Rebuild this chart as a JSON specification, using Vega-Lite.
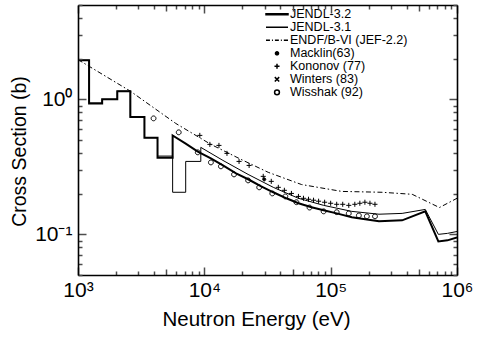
{
  "$schema": "https://vega.github.io/schema/vega-lite/v6.json",
  "width": 379,
  "height": 270,
  "autosize": "none",
  "padding": {"left": 78, "top": 5, "right": 20, "bottom": 63},
  "background": "white",
  "config": {
    "view": {"stroke": null},
    "axis": {"grid": false}
  },
  "datasets": {
    "lines": [
      {"s": "JENDL-3.2", "i": 1, "E": 1000, "cs": 1.95},
      {"s": "JENDL-3.2", "i": 2, "E": 1224, "cs": 1.95},
      {"s": "JENDL-3.2", "i": 3, "E": 1224, "cs": 0.93},
      {"s": "JENDL-3.2", "i": 4, "E": 1553, "cs": 0.93},
      {"s": "JENDL-3.2", "i": 5, "E": 1553, "cs": 1.0},
      {"s": "JENDL-3.2", "i": 6, "E": 2046, "cs": 1.0},
      {"s": "JENDL-3.2", "i": 7, "E": 2046, "cs": 1.15},
      {"s": "JENDL-3.2", "i": 8, "E": 2596, "cs": 1.15},
      {"s": "JENDL-3.2", "i": 9, "E": 2596, "cs": 0.74},
      {"s": "JENDL-3.2", "i": 10, "E": 3357, "cs": 0.74},
      {"s": "JENDL-3.2", "i": 11, "E": 3357, "cs": 0.52},
      {"s": "JENDL-3.2", "i": 12, "E": 4261, "cs": 0.52},
      {"s": "JENDL-3.2", "i": 13, "E": 4261, "cs": 0.37},
      {"s": "JENDL-3.2", "i": 14, "E": 5611, "cs": 0.37},
      {"s": "JENDL-3.2", "i": 15, "E": 5611, "cs": 0.54},
      {"s": "JENDL-3.2", "i": 16, "E": 7120, "cs": 0.47},
      {"s": "JENDL-3.2", "i": 17, "E": 8876, "cs": 0.41},
      {"s": "JENDL-3.2", "i": 18, "E": 11265, "cs": 0.366},
      {"s": "JENDL-3.2", "i": 19, "E": 14040, "cs": 0.324},
      {"s": "JENDL-3.2", "i": 20, "E": 17820, "cs": 0.283},
      {"s": "JENDL-3.2", "i": 21, "E": 22210, "cs": 0.256},
      {"s": "JENDL-3.2", "i": 22, "E": 28190, "cs": 0.227},
      {"s": "JENDL-3.2", "i": 23, "E": 35140, "cs": 0.205},
      {"s": "JENDL-3.2", "i": 24, "E": 44610, "cs": 0.185},
      {"s": "JENDL-3.2", "i": 25, "E": 55590, "cs": 0.17},
      {"s": "JENDL-3.2", "i": 26, "E": 70570, "cs": 0.159},
      {"s": "JENDL-3.2", "i": 27, "E": 87950, "cs": 0.151},
      {"s": "JENDL-3.2", "i": 28, "E": 111600, "cs": 0.143},
      {"s": "JENDL-3.2", "i": 29, "E": 147000, "cs": 0.134},
      {"s": "JENDL-3.2", "i": 30, "E": 193600, "cs": 0.129},
      {"s": "JENDL-3.2", "i": 31, "E": 241300, "cs": 0.125},
      {"s": "JENDL-3.2", "i": 32, "E": 367900, "cs": 0.127},
      {"s": "JENDL-3.2", "i": 33, "E": 561100, "cs": 0.148},
      {"s": "JENDL-3.2", "i": 34, "E": 712000, "cs": 0.0887},
      {"s": "JENDL-3.2", "i": 35, "E": 840300, "cs": 0.0903},
      {"s": "JENDL-3.2", "i": 36, "E": 1000000, "cs": 0.095},
      {"s": "JENDL-3.1", "i": 1, "E": 1000, "cs": 1.95},
      {"s": "JENDL-3.1", "i": 2, "E": 1224, "cs": 1.95},
      {"s": "JENDL-3.1", "i": 3, "E": 1224, "cs": 0.94},
      {"s": "JENDL-3.1", "i": 4, "E": 1553, "cs": 0.94},
      {"s": "JENDL-3.1", "i": 5, "E": 1553, "cs": 1.0},
      {"s": "JENDL-3.1", "i": 6, "E": 2046, "cs": 1.0},
      {"s": "JENDL-3.1", "i": 7, "E": 2046, "cs": 1.15},
      {"s": "JENDL-3.1", "i": 8, "E": 2596, "cs": 1.15},
      {"s": "JENDL-3.1", "i": 9, "E": 2596, "cs": 0.74},
      {"s": "JENDL-3.1", "i": 10, "E": 3357, "cs": 0.74},
      {"s": "JENDL-3.1", "i": 11, "E": 3357, "cs": 0.52},
      {"s": "JENDL-3.1", "i": 12, "E": 4261, "cs": 0.52},
      {"s": "JENDL-3.1", "i": 13, "E": 4261, "cs": 0.38},
      {"s": "JENDL-3.1", "i": 14, "E": 5611, "cs": 0.38},
      {"s": "JENDL-3.1", "i": 15, "E": 5611, "cs": 0.205},
      {"s": "JENDL-3.1", "i": 16, "E": 7120, "cs": 0.205},
      {"s": "JENDL-3.1", "i": 17, "E": 7120, "cs": 0.347},
      {"s": "JENDL-3.1", "i": 18, "E": 9378, "cs": 0.347},
      {"s": "JENDL-3.1", "i": 19, "E": 9378, "cs": 0.441},
      {"s": "JENDL-3.1", "i": 20, "E": 14040, "cs": 0.353},
      {"s": "JENDL-3.1", "i": 21, "E": 22210, "cs": 0.278},
      {"s": "JENDL-3.1", "i": 22, "E": 35140, "cs": 0.223},
      {"s": "JENDL-3.1", "i": 23, "E": 55590, "cs": 0.185},
      {"s": "JENDL-3.1", "i": 24, "E": 87950, "cs": 0.164},
      {"s": "JENDL-3.1", "i": 25, "E": 147000, "cs": 0.148},
      {"s": "JENDL-3.1", "i": 26, "E": 241300, "cs": 0.141},
      {"s": "JENDL-3.1", "i": 27, "E": 367900, "cs": 0.143},
      {"s": "JENDL-3.1", "i": 28, "E": 561100, "cs": 0.153},
      {"s": "JENDL-3.1", "i": 29, "E": 712000, "cs": 0.1},
      {"s": "JENDL-3.1", "i": 30, "E": 840300, "cs": 0.1017},
      {"s": "JENDL-3.1", "i": 31, "E": 1000000, "cs": 0.105},
      {"s": "ENDF/B-VI (JEF-2.2)", "i": 1, "E": 1000, "cs": 1.97},
      {"s": "ENDF/B-VI (JEF-2.2)", "i": 2, "E": 2596, "cs": 1.15},
      {"s": "ENDF/B-VI (JEF-2.2)", "i": 3, "E": 5930, "cs": 0.664},
      {"s": "ENDF/B-VI (JEF-2.2)", "i": 4, "E": 11265, "cs": 0.464},
      {"s": "ENDF/B-VI (JEF-2.2)", "i": 5, "E": 19540, "cs": 0.359},
      {"s": "ENDF/B-VI (JEF-2.2)", "i": 6, "E": 32060, "cs": 0.288},
      {"s": "ENDF/B-VI (JEF-2.2)", "i": 7, "E": 58750, "cs": 0.234},
      {"s": "ENDF/B-VI (JEF-2.2)", "i": 8, "E": 122400, "cs": 0.208},
      {"s": "ENDF/B-VI (JEF-2.2)", "i": 9, "E": 254900, "cs": 0.205},
      {"s": "ENDF/B-VI (JEF-2.2)", "i": 10, "E": 441900, "cs": 0.198},
      {"s": "ENDF/B-VI (JEF-2.2)", "i": 11, "E": 725500, "cs": 0.158},
      {"s": "ENDF/B-VI (JEF-2.2)", "i": 12, "E": 1000000, "cs": 0.185}
    ],
    "points": [
      {"s": "Wisshak (92)", "E": 3963, "cs": 0.723},
      {"s": "Wisshak (92)", "E": 6270, "cs": 0.57},
      {"s": "Wisshak (92)", "E": 8870, "cs": 0.405},
      {"s": "Wisshak (92)", "E": 11270, "cs": 0.341},
      {"s": "Wisshak (92)", "E": 13530, "cs": 0.319},
      {"s": "Wisshak (92)", "E": 17180, "cs": 0.278},
      {"s": "Wisshak (92)", "E": 22220, "cs": 0.251},
      {"s": "Wisshak (92)", "E": 27190, "cs": 0.223},
      {"s": "Wisshak (92)", "E": 34510, "cs": 0.201},
      {"s": "Wisshak (92)", "E": 43790, "cs": 0.191},
      {"s": "Wisshak (92)", "E": 53570, "cs": 0.173},
      {"s": "Wisshak (92)", "E": 68030, "cs": 0.158},
      {"s": "Wisshak (92)", "E": 87960, "cs": 0.148},
      {"s": "Wisshak (92)", "E": 111600, "cs": 0.146},
      {"s": "Wisshak (92)", "E": 139100, "cs": 0.143},
      {"s": "Wisshak (92)", "E": 167200, "cs": 0.138},
      {"s": "Wisshak (92)", "E": 193400, "cs": 0.136},
      {"s": "Wisshak (92)", "E": 224300, "cs": 0.136},
      {"s": "Kononov (77)", "E": 9207, "cs": 0.541},
      {"s": "Kononov (77)", "E": 11060, "cs": 0.464},
      {"s": "Kononov (77)", "E": 13050, "cs": 0.456},
      {"s": "Kononov (77)", "E": 15110, "cs": 0.398},
      {"s": "Kononov (77)", "E": 18830, "cs": 0.347},
      {"s": "Kononov (77)", "E": 22620, "cs": 0.324},
      {"s": "Kononov (77)", "E": 29250, "cs": 0.269},
      {"s": "Kononov (77)", "E": 33870, "cs": 0.247},
      {"s": "Kononov (77)", "E": 38520, "cs": 0.223},
      {"s": "Kononov (77)", "E": 43000, "cs": 0.212},
      {"s": "Kononov (77)", "E": 48900, "cs": 0.201},
      {"s": "Kononov (77)", "E": 55590, "cs": 0.191},
      {"s": "Kononov (77)", "E": 60930, "cs": 0.185},
      {"s": "Kononov (77)", "E": 66780, "cs": 0.182},
      {"s": "Kononov (77)", "E": 73190, "cs": 0.179},
      {"s": "Kononov (77)", "E": 80250, "cs": 0.176},
      {"s": "Kononov (77)", "E": 89580, "cs": 0.173},
      {"s": "Kononov (77)", "E": 100000, "cs": 0.17},
      {"s": "Kononov (77)", "E": 111600, "cs": 0.167},
      {"s": "Kononov (77)", "E": 124600, "cs": 0.167},
      {"s": "Kononov (77)", "E": 139100, "cs": 0.164},
      {"s": "Kononov (77)", "E": 155300, "cs": 0.167},
      {"s": "Kononov (77)", "E": 170200, "cs": 0.17},
      {"s": "Kononov (77)", "E": 186600, "cs": 0.173},
      {"s": "Kononov (77)", "E": 204600, "cs": 0.17},
      {"s": "Kononov (77)", "E": 224200, "cs": 0.167},
      {"s": "Macklin(63)", "E": 29790, "cs": 0.2555}
    ]
  },
  "layer": [
    {
      "data": {"name": "lines"},
      "transform": [{"filter": "datum.s == 'JENDL-3.2'"}],
      "mark": {"type": "line", "stroke": "black", "strokeWidth": 2, "clip": true},
      "encoding": {
        "x": {"field": "E", "type": "quantitative",
          "scale": {"type": "log", "domain": [1000, 1000000], "nice": false},
          "axis": {"orient": "bottom", "title": "Neutron Energy (eV)", "titleX": 178, "zindex": 1,
            "values": [1000, 2000, 3000, 4000, 5000, 6000, 7000, 8000, 9000, 10000, 20000, 30000, 40000, 50000, 60000, 70000, 80000, 90000, 100000, 200000, 300000, 400000, 500000, 600000, 700000, 800000, 900000, 1000000],
            "labelExpr": "datum.value == 1000 ? '10³' : datum.value == 10000 ? '10⁴' : datum.value == 100000 ? '10⁵' : datum.value == 1000000 ? '10⁶' : ''",
            "tickSize": {"condition": [{"test": "datum.value == 1000 || datum.value == 10000 || datum.value == 100000 || datum.value == 1000000", "value": -8}, {"test": "datum.value == 5000 || datum.value == 50000 || datum.value == 500000", "value": -6}], "value": -4},
            "tickColor": "#4d4d4d", "tickWidth": 1.5, "domainColor": "black", "domainWidth": 1.6,
            "labelFont": "Liberation Sans", "labelFontSize": 21, "labelColor": "black", "labelFlush": false, "labelOverlap": false, "labelPadding": 12,
            "titleFont": "Liberation Sans", "titleFontSize": 20.5, "titleFontWeight": "normal", "titleColor": "black", "titlePadding": 5}},
        "y": {"field": "cs", "type": "quantitative",
          "scale": {"type": "log", "domain": [0.05, 5], "nice": false},
          "axis": {"orient": "left", "title": "Cross Section (b)", "zindex": 1,
            "values": [0.05, 0.06, 0.07, 0.08, 0.09, 0.1, 0.2, 0.3, 0.4, 0.5, 0.6, 0.7, 0.8, 0.9, 1, 2, 3, 4, 5],
            "labelExpr": "datum.value == 1 ? '10⁰' : datum.value == 0.1 ? '10⁻¹' : ''",
            "tickSize": {"condition": [{"test": "datum.value == 1 || datum.value == 0.1", "value": -8}], "value": -4},
            "tickColor": "#4d4d4d", "tickWidth": 1.5, "domainColor": "black", "domainWidth": 1.6,
            "labelFont": "Liberation Sans", "labelFontSize": 21, "labelColor": "black", "labelFlush": false, "labelOverlap": false, "labelPadding": 14,
            "titleFont": "Liberation Sans", "titleFontSize": 19.5, "titleFontWeight": "normal", "titleColor": "black", "titlePadding": 5, "titleY": 146}},
        "order": {"field": "i", "type": "quantitative"}
      }
    },
    {
      "data": {"name": "lines"},
      "transform": [{"filter": "datum.s == 'JENDL-3.1'"}],
      "mark": {"type": "line", "stroke": "black", "strokeWidth": 1, "clip": true},
      "encoding": {
        "x": {"field": "E", "type": "quantitative", "scale": {"type": "log", "domain": [1000, 1000000], "nice": false}, "axis": null},
        "y": {"field": "cs", "type": "quantitative", "scale": {"type": "log", "domain": [0.05, 5], "nice": false}, "axis": null},
        "order": {"field": "i", "type": "quantitative"}
      }
    },
    {
      "data": {"name": "lines"},
      "transform": [{"filter": "datum.s == 'ENDF/B-VI (JEF-2.2)'"}],
      "mark": {"type": "line", "stroke": "black", "strokeWidth": 1, "strokeDash": [5, 2.5, 1.5, 2.5], "clip": true},
      "encoding": {
        "x": {"field": "E", "type": "quantitative", "scale": {"type": "log", "domain": [1000, 1000000], "nice": false}, "axis": null},
        "y": {"field": "cs", "type": "quantitative", "scale": {"type": "log", "domain": [0.05, 5], "nice": false}, "axis": null},
        "order": {"field": "i", "type": "quantitative"}
      }
    },
    {
      "data": {"name": "points"},
      "mark": {"type": "point", "filled": false, "stroke": "black", "strokeWidth": 1, "size": 484, "opacity": 1, "clip": true},
      "encoding": {
        "x": {"field": "E", "type": "quantitative", "scale": {"type": "log", "domain": [1000, 1000000], "nice": false},
          "axis": {"orient": "top", "title": null, "labels": false, "zindex": 1,
            "values": [1000, 2000, 3000, 4000, 5000, 6000, 7000, 8000, 9000, 10000, 20000, 30000, 40000, 50000, 60000, 70000, 80000, 90000, 100000, 200000, 300000, 400000, 500000, 600000, 700000, 800000, 900000, 1000000],
            "tickSize": {"condition": [{"test": "datum.value == 1000 || datum.value == 10000 || datum.value == 100000 || datum.value == 1000000", "value": -8}, {"test": "datum.value == 5000 || datum.value == 50000 || datum.value == 500000", "value": -6}], "value": -4},
            "tickColor": "#4d4d4d", "tickWidth": 1.5, "domainColor": "black", "domainWidth": 1.6}},
        "y": {"field": "cs", "type": "quantitative", "scale": {"type": "log", "domain": [0.05, 5], "nice": false},
          "axis": {"orient": "right", "title": null, "labels": false, "zindex": 1,
            "values": [0.05, 0.06, 0.07, 0.08, 0.09, 0.1, 0.2, 0.3, 0.4, 0.5, 0.6, 0.7, 0.8, 0.9, 1, 2, 3, 4, 5],
            "tickSize": {"condition": [{"test": "datum.value == 1 || datum.value == 0.1", "value": -8}], "value": -4},
            "tickColor": "#4d4d4d", "tickWidth": 1.5, "domainColor": "black", "domainWidth": 1.6}},
        "shape": {"field": "s", "type": "nominal",
          "scale": {"domain": ["JENDL-3.2", "JENDL-3.1", "ENDF/B-VI (JEF-2.2)", "Macklin(63)", "Kononov (77)", "Winters (83)", "Wisshak (92)"],
            "range": ["M-1,-0.05H1V0.05H-1Z", "M-1,0H1", "M-1,0H-0.64M-0.46,0H-0.37M-0.19,0H0.17M0.35,0H0.44M0.62,0H1", "M-0.14,0A0.14,0.14 0 1,0 0.14,0A0.14,0.14 0 1,0 -0.14,0Z", "M-0.23,0H0.23M0,-0.23V0.23", "M-0.2,-0.2L0.2,0.2M-0.2,0.2L0.2,-0.2", "M-0.22,0A0.22,0.22 0 1,0 0.22,0A0.22,0.22 0 1,0 -0.22,0Z"]},
          "legend": {"orient": "none", "legendX": 187, "legendY": 3, "title": null, "symbolSize": 484, "clipHeight": 12.6, "rowPadding": 0, "padding": 0, "labelFont": "Liberation Sans", "labelFontSize": 12.5, "labelColor": "black", "labelOffset": 1, "labelLimit": 300,
            "encode": {"symbols": {"update": {"stroke": {"value": "black"}, "strokeWidth": {"value": 1}, "opacity": {"value": 1}}}}}},
        "fill": {"field": "s", "type": "nominal",
          "scale": {"domain": ["JENDL-3.2", "JENDL-3.1", "ENDF/B-VI (JEF-2.2)", "Macklin(63)", "Kononov (77)", "Winters (83)", "Wisshak (92)"],
            "range": ["black", "transparent", "transparent", "black", "transparent", "transparent", "transparent"]},
          "legend": {"orient": "none", "legendX": 187, "legendY": 3, "title": null, "symbolSize": 484, "clipHeight": 12.6, "rowPadding": 0, "padding": 0, "labelFont": "Liberation Sans", "labelFontSize": 12.5, "labelColor": "black", "labelOffset": 1, "labelLimit": 300,
            "encode": {"symbols": {"update": {"stroke": {"value": "black"}, "strokeWidth": {"value": 1}, "opacity": {"value": 1}}}}}}
      }
    }
  ],
  "resolve": {"axis": {"x": "independent", "y": "independent"}}
}
